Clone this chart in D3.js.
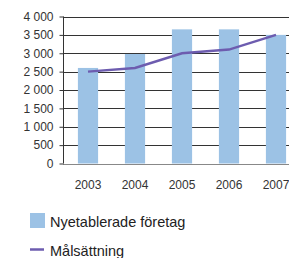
<!DOCTYPE html>
<html>
<head>
<meta charset="utf-8">
<script src="https://cdn.jsdelivr.net/npm/d3@7"></script>
<style>
  body { margin: 0; background: #fff; }
  svg { display: block; font-family: "Liberation Sans", Arial, sans-serif; }
</style>
</head>
<body>
<div id="chart"></div>
<script>
// data
var years = ["2003", "2004", "2005", "2006", "2007"]
var nyetablerade = [2600, 2980, 3650, 3650, 3500]
var malsattning = [2500, 2600, 3000, 3100, 3500]
var yTicks = [0, 500, 1000, 1500, 2000, 2500, 3000, 3500, 4000]

var width = 289,
    height = 258

var barColor = "#9cc2e5",
    lineColor = "#6d5caf"

var svg = d3.select("#chart")
  .append("svg")
    .attr("width", width)
    .attr("height", height)

var x = d3.scaleBand()
  .domain(years)
  .range([64.5, 299.5])
  .paddingInner(0.57)
  .paddingOuter(0.285)

var y = d3.scaleLinear()
  .domain([0, 4000])
  .range([163.5, 16.5])

// gridlines
svg.append("g")
  .selectAll("line")
  .data(yTicks)
  .enter()
  .append("line")
    .attr("x1", 63)
    .attr("x2", width)
    .attr("y1", d => Math.round(y(d)) + 0.5)
    .attr("y2", d => Math.round(y(d)) + 0.5)
    .attr("stroke", d => d === 0 ? "#888" : "#333")
    .attr("stroke-width", 1)

// bars
svg.append("g")
  .selectAll("rect")
  .data(years)
  .enter()
  .append("rect")
    .attr("x", d => x(d))
    .attr("width", x.bandwidth())
    .attr("y", (d, i) => y(nyetablerade[i]))
    .attr("height", (d, i) => y(0) - y(nyetablerade[i]))
    .attr("fill", barColor)

// y axis
var yAxis = svg.append("g")
  .attr("transform", "translate(63.5,0)")
  .call(d3.axisLeft(y).tickValues(yTicks).tickSize(4).tickPadding(6).tickFormat(d => d3.format(",")(d).replace(",", " ")))
yAxis.select(".domain").attr("stroke", "#333").attr("d", "M0," + y(4000) + "V" + y(0))
yAxis.selectAll(".tick line").attr("stroke", "#333")
yAxis.selectAll("text").attr("fill", "#333").style("font-size", "12px")
yAxis.attr("font-family", null)

// x labels
svg.append("g")
  .selectAll("text")
  .data(years)
  .enter()
  .append("text")
    .attr("x", d => x(d) + x.bandwidth() / 2)
    .attr("y", 189)
    .attr("text-anchor", "middle")
    .attr("fill", "#333")
    .style("font-size", "12px")
    .text(d => d)

// target line
var line = d3.line()
  .x((d, i) => x(years[i]) + x.bandwidth() / 2)
  .y(d => y(d))

svg.append("path")
  .datum(malsattning)
  .attr("d", line)
  .attr("fill", "none")
  .attr("stroke", lineColor)
  .attr("stroke-width", 2.5)

// legend
var legend = svg.append("g").style("font-size", "14.5px").attr("fill", "#222")
legend.append("rect")
  .attr("x", 30).attr("y", 213).attr("width", 15).attr("height", 15)
  .attr("fill", barColor)
legend.append("text")
  .attr("x", 50).attr("y", 226.5)
  .text("Nyetablerade företag")
legend.append("line")
  .attr("x1", 30).attr("x2", 44).attr("y1", 249.5).attr("y2", 249.5)
  .attr("stroke", lineColor).attr("stroke-width", 2.5)
legend.append("text")
  .attr("x", 50).attr("y", 256)
  .text("Målsättning")
</script>
</body>
</html>
